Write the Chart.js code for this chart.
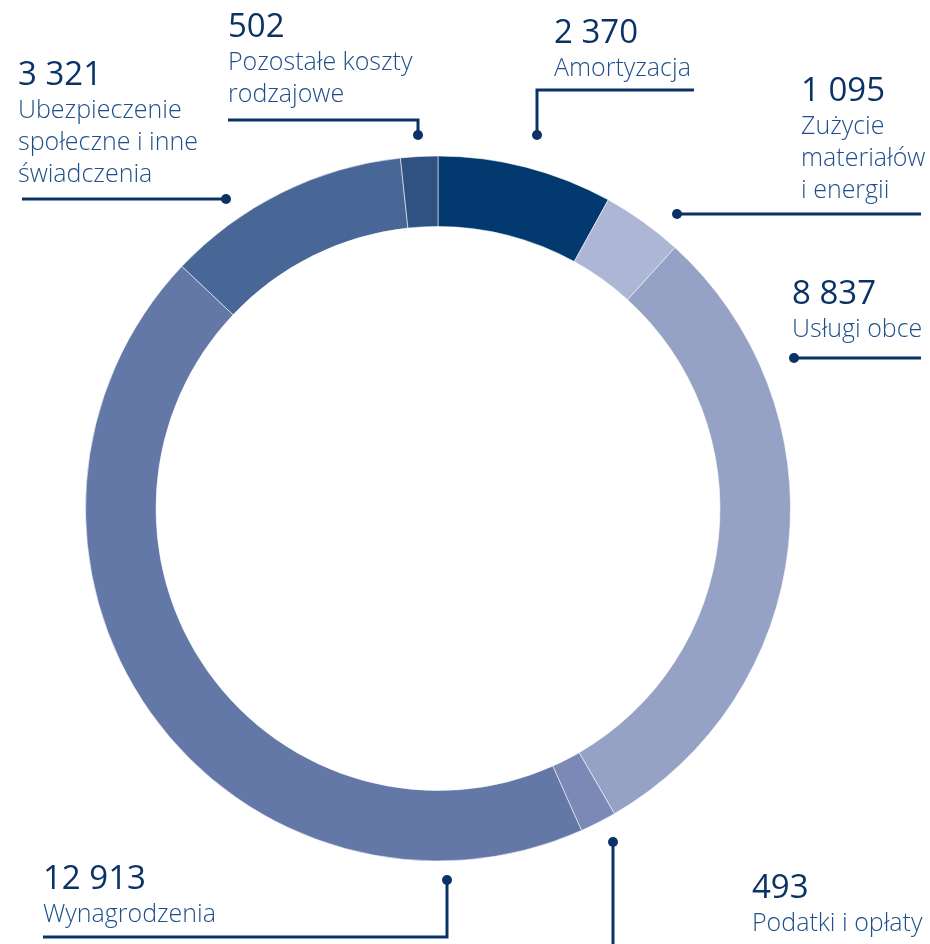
<!DOCTYPE html>
<html>
<head>
<meta charset="utf-8">
<script src="https://cdn.jsdelivr.net/npm/chart.js@4/dist/chart.umd.min.js"></script>
<style>
  html, body { margin: 0; padding: 0; background: #fff; }
  #wrap { width: 930px; height: 944px; position: relative; }
</style>
</head>
<body>
<div id="wrap"><canvas id="c" width="930" height="944"></canvas></div>
<script>
(function () {
  'use strict';

  // data (thousands), clockwise from 12 o'clock
  const categories = ['Amortyzacja', 'Zużycie materiałów i energii', 'Usługi obce', 'Podatki i opłaty', 'Wynagrodzenia', 'Ubezpieczenie społeczne i inne świadczenia', 'Pozostałe koszty rodzajowe'];
  const values = [2370, 1095, 8837, 493, 12913, 3321, 502];
  const labelLines = [
    ['Amortyzacja'],
    ['Zużycie', 'materiałów', 'i energii'],
    ['Usługi obce'],
    ['Podatki i opłaty'],
    ['Wynagrodzenia'],
    ['Ubezpieczenie', 'społeczne i inne', 'świadczenia'],
    ['Pozostałe koszty', 'rodzajowe'],
  ];
  const colors = ['#023a70', '#aeb6d5', '#96a2c5', '#7c88b6', '#6478a7', '#486797', '#305283'];

  // callout layout: text anchor (x, number baseline) + leader polyline ending at the dot
  const callouts = [
    { x: 554, y: 43, path: [[694, 90], [537, 90], [537, 135]] },
    { x: 801, y: 101, path: [[921, 214], [677, 214]] },
    { x: 792, y: 304, path: [[921, 358], [794, 358]] },
    { x: 752, y: 898, path: [[613, 944], [613, 842]] },
    { x: 43, y: 889, path: [[43, 937], [447, 937], [447, 880]] },
    { x: 18, y: 85, path: [[22, 199], [226, 199]] },
    { x: 228, y: 37, path: [[228, 120], [418, 120], [418, 135]] },
  ];

  const NUM_COLOR = '#0b3266';
  const TXT_COLOR = '#1f4f8b';
  const FONT = '"Open Sans", "Noto Sans", sans-serif';

  function fmt(n) { return String(n).replace(/\B(?=(\d{3})+(?!\d))/g, ' '); }

  const callout = {
    id: 'callout',
    afterDraw(chart) {
      const ctx = chart.ctx;
      ctx.save();
      values.forEach((v, i) => {
        const c = callouts[i];
        ctx.textAlign = 'left';
        ctx.textBaseline = 'alphabetic';
        ctx.fillStyle = NUM_COLOR;
        ctx.font = '500 33px ' + FONT;
        ctx.fillText(fmt(v), c.x, c.y);
        ctx.fillStyle = TXT_COLOR;
        ctx.font = '300 25px ' + FONT;
        labelLines[i].forEach((t, k) => ctx.fillText(t, c.x, c.y + 33 + k * 32));
        // leader
        ctx.strokeStyle = NUM_COLOR;
        ctx.lineWidth = 3;
        ctx.beginPath();
        c.path.forEach((p, k) => (k ? ctx.lineTo(p[0], p[1]) : ctx.moveTo(p[0], p[1])));
        ctx.stroke();
        const end = c.path[c.path.length - 1];
        ctx.fillStyle = NUM_COLOR;
        ctx.beginPath();
        ctx.arc(end[0], end[1], 5, 0, Math.PI * 2);
        ctx.fill();
      });
      ctx.restore();
    },
  };

  new Chart(document.getElementById('c'), {
    type: 'doughnut',
    data: {
      labels: categories,
      datasets: [{ data: values, backgroundColor: colors, borderColor: 'rgba(255,255,255,0.55)', borderWidth: 1, hoverOffset: 0 }],
    },
    options: {
      responsive: false, animation: false, cutout: '80%',
      layout: { padding: { left: 85, top: 155, right: 139, bottom: 82 } },
      plugins: { legend: { display: false }, tooltip: { enabled: false } },
    },
    plugins: [callout],
  });
})();
</script>
</body>
</html>
